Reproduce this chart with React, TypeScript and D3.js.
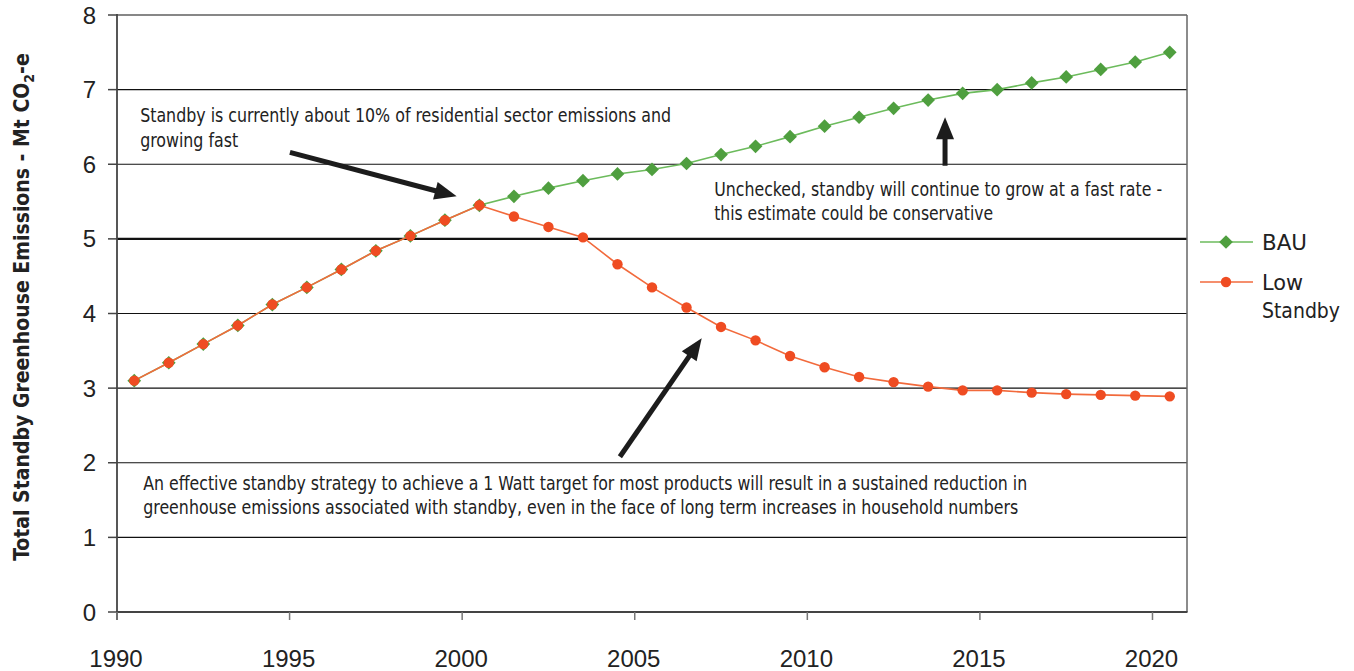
import React from "react";
import * as d3 from "d3";

// Category years (one point per year, drawn at the middle of each year band)
const years = [
  1990, 1991, 1992, 1993, 1994, 1995, 1996, 1997, 1998, 1999, 2000,
  2001, 2002, 2003, 2004, 2005, 2006, 2007, 2008, 2009, 2010,
  2011, 2012, 2013, 2014, 2015, 2016, 2017, 2018, 2019, 2020,
];

// Business-as-usual emissions, Mt CO2-e
const bau = [
  3.1, 3.34, 3.59, 3.84, 4.12, 4.35, 4.59, 4.84, 5.04, 5.25, 5.45,
  5.57, 5.68, 5.78, 5.87, 5.93, 6.01, 6.13, 6.24, 6.37, 6.51,
  6.63, 6.75, 6.86, 6.95, 7.0, 7.09, 7.17, 7.27, 7.37, 7.5,
];

// Low standby scenario, Mt CO2-e
const lowStandby = [
  3.1, 3.34, 3.59, 3.84, 4.12, 4.35, 4.59, 4.84, 5.04, 5.25, 5.45,
  5.3, 5.16, 5.02, 4.66, 4.35, 4.08, 3.82, 3.64, 3.43, 3.28,
  3.15, 3.08, 3.02, 2.97, 2.97, 2.94, 2.92, 2.91, 2.9, 2.89,
];

const yTicks = [0, 1, 2, 3, 4, 5, 6, 7, 8];
const xTicks = [1990, 1995, 2000, 2005, 2010, 2015, 2020];

const W = 1354;
const H = 671;
const left = 117;
const right = 1187;
const top = 15;
const bottom = 612;

const GREEN = "#4f9f3f";
const GREEN_LINE = "#6cbb5c";
const RED = "#ef4c22";
const RED_LINE = "#f26a3c";
const INK = "#1c1c1c";

const condensed = "'DejaVu Sans Condensed', 'Liberation Sans Narrow', sans-serif";
const plain = "'Liberation Sans', Arial, sans-serif";

// Annotation notes: text lines with their anchor point in data space and set width
const notes: { text: string; year: number; value: number; width: number }[] = [
  { text: "Standby is currently about 10% of residential sector emissions and", year: 1990.67, value: 6.56, width: 531 },
  { text: "growing fast", year: 1990.67, value: 6.23, width: 98 },
  { text: "Unchecked, standby will continue to grow at a fast rate -", year: 2007.3, value: 5.576, width: 448 },
  { text: "this estimate could be conservative", year: 2007.3, value: 5.255, width: 279 },
  {
    text: "An effective standby strategy to achieve a 1 Watt target for most products will result in a sustained reduction in",
    year: 1990.76, value: 1.635, width: 884,
  },
  {
    text: "greenhouse emissions associated with standby, even in the face of long term increases in household numbers",
    year: 1990.76, value: 1.313, width: 875,
  },
];

export default function App() {
  const x = d3.scaleLinear().domain([1990, 2021]).range([left, right]);
  const y = d3.scaleLinear().domain([0, 8]).range([bottom, top]);

  const line = d3
    .line<number>()
    .x((_, i) => x(years[i] + 0.5))
    .y((d) => y(d));

  const diamond = d3.symbol().type(d3.symbolDiamond2).size(120)() as string;

  // Annotation arrows in data space: [fromYear, fromValue, toYear, toValue]
  const arrows: [number, number, number, number][] = [
    [1995.01, 6.16, 1999.84, 5.57],
    [2013.99, 5.98, 2013.99, 6.63],
    [2004.57, 2.08, 2006.94, 3.67],
  ];

  const arrowPath = (a: [number, number, number, number]) => {
    const x1 = x(a[0]);
    const y1 = y(a[1]);
    const x2 = x(a[2]);
    const y2 = y(a[3]);
    const ang = Math.atan2(y2 - y1, x2 - x1);
    const hl = 22;
    const hw = 9;
    const bx = x2 - hl * Math.cos(ang);
    const by = y2 - hl * Math.sin(ang);
    const px = -Math.sin(ang);
    const py = Math.cos(ang);
    return {
      shaft: { x1, y1, x2: bx + 2 * Math.cos(ang), y2: by + 2 * Math.sin(ang) },
      head: `M${x2},${y2}L${bx + px * hw},${by + py * hw}L${bx - px * hw},${by - py * hw}Z`,
    };
  };

  return (
    <svg width={W} height={H} style={{ position: "absolute", left: 0, top: 0, background: "#fff" }}>
      {/* horizontal gridlines */}
      {yTicks.slice(1).map((t) => (
        <line
          key={"g" + t}
          x1={left}
          x2={right}
          y1={y(t)}
          y2={y(t)}
          stroke="#111"
          strokeWidth={t === 5 ? 2.2 : 1.2}
        />
      ))}
      {/* right border */}
      <line x1={right} x2={right} y1={top} y2={bottom} stroke="#666" strokeWidth={1.5} />
      {/* axes */}
      <line x1={left} x2={left} y1={top - 1} y2={bottom + 8} stroke="#444" strokeWidth={1.8} />
      <line x1={left - 1} x2={right + 0.5} y1={bottom} y2={bottom} stroke="#444" strokeWidth={1.8} />
      {yTicks.map((t) => (
        <g key={"yt" + t}>
          <line x1={left - 9} x2={left} y1={y(t)} y2={y(t)} stroke="#444" strokeWidth={1.5} />
          <text
            x={96}
            y={y(t) + 8.5}
            textAnchor="end"
            fontFamily={plain}
            fontSize={24}
            fill="#222"
          >
            {t}
          </text>
        </g>
      ))}
      {xTicks.map((t) => (
        <g key={"xt" + t}>
          <line x1={x(t)} x2={x(t)} y1={bottom} y2={bottom + 8} stroke="#777" strokeWidth={1.5} />
          <text x={x(t) - 1} y={667} textAnchor="middle" fontFamily={plain} fontSize={24} fill="#222">
            {t}
          </text>
        </g>
      ))}

      {/* y axis title */}
      <text
        transform={`translate(29, 307) rotate(-90)`}
        textAnchor="middle"
        fontFamily={condensed}
        fontWeight="bold"
        fontSize={21}
        fill="#222"
      >
        Total Standby Greenhouse Emissions - Mt CO
        <tspan fontSize={14} dy={5}>2</tspan>
        <tspan dy={-5}>-e</tspan>
      </text>

      {/* BAU series */}
      <path d={line(bau) as string} fill="none" stroke={GREEN_LINE} strokeWidth={1.6} />
      {bau.map((v, i) => (
        <path
          key={"b" + i}
          d={diamond}
          transform={`translate(${x(years[i] + 0.5)},${y(v)})`}
          fill={GREEN}
        />
      ))}

      {/* Low standby series */}
      <path d={line(lowStandby) as string} fill="none" stroke={RED_LINE} strokeWidth={1.6} />
      {lowStandby.map((v, i) => (
        <circle key={"l" + i} cx={x(years[i] + 0.5)} cy={y(v)} r={5.2} fill={RED} />
      ))}

      {/* annotation arrows */}
      {arrows.map((a, i) => {
        const p = arrowPath(a);
        return (
          <g key={"a" + i}>
            <line {...p.shaft} stroke={INK} strokeWidth={5} />
            <path d={p.head} fill={INK} />
          </g>
        );
      })}

      {/* annotation texts */}
      <g fontFamily={condensed} fontSize={19} fill="#222">
        {notes.map((n, i) => (
          <text
            key={"n" + i}
            x={x(n.year)}
            y={y(n.value)}
            textLength={n.width}
            lengthAdjust="spacingAndGlyphs"
          >
            {n.text}
          </text>
        ))}
      </g>

      {/* legend */}
      <g fontFamily={condensed} fontSize={22} fill="#222">
        <line x1={1200} x2={1253} y1={242} y2={242} stroke={GREEN_LINE} strokeWidth={1.6} />
        <path d={diamond} transform="translate(1226,242)" fill={GREEN} />
        <text x={1262} y={250} textLength={45} lengthAdjust="spacingAndGlyphs">BAU</text>
        <line x1={1200} x2={1253} y1={282} y2={282} stroke={RED_LINE} strokeWidth={1.6} />
        <circle cx={1226} cy={282} r={5.2} fill={RED} />
        <text x={1262} y={290} textLength={41} lengthAdjust="spacingAndGlyphs">Low</text>
        <text x={1262} y={318} textLength={78} lengthAdjust="spacingAndGlyphs">Standby</text>
      </g>
    </svg>
  );
}
